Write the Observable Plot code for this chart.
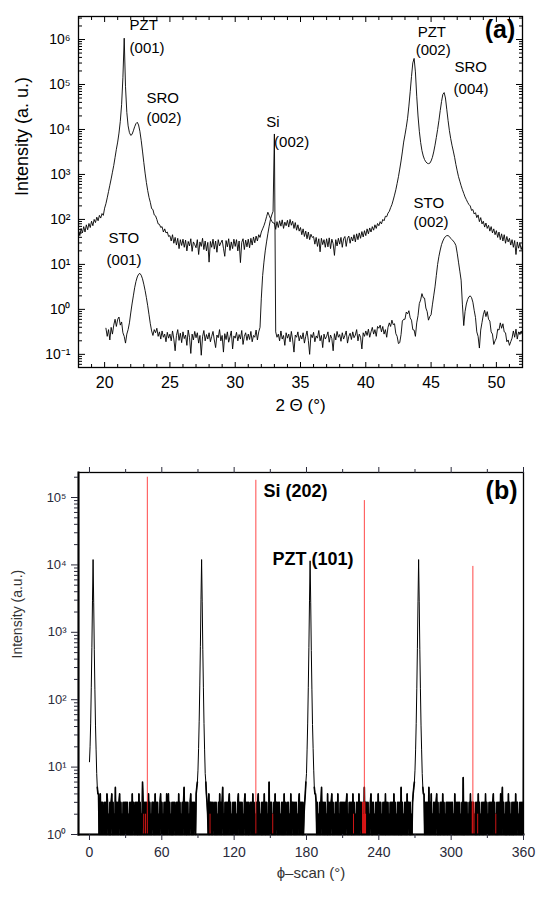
<!DOCTYPE html>
<html><head><meta charset="utf-8">
<script src="https://cdn.jsdelivr.net/npm/d3@7"></script>
<script src="https://cdn.jsdelivr.net/npm/@observablehq/plot@0.6"></script>
<style>
body{margin:0;background:#fff;font-family:"Liberation Sans",Arial,sans-serif;}
#chart svg{display:block}
</style></head><body><div id="chart"></div>
<script>
// ---------- Panel (a): 2-theta scans, log10 intensity, 0.1° steps ----------
const filmStart = 18.0;           // upper curve (film), 18.0 .. 52.0
const filmLog = [
1.76,1.64,1.80,1.70,1.84,1.72,1.88,1.77,1.91,1.82,
1.96,1.86,2.00,1.93,2.05,1.97,2.09,2.03,2.13,2.09,
2.25,2.35,2.48,2.62,2.76,2.90,3.05,3.20,3.38,3.56,
3.72,3.92,4.18,4.55,5.15,6.03,4.95,4.38,4.08,3.93,
3.87,3.89,3.97,4.06,4.13,4.16,4.10,3.96,3.76,3.52,
3.27,3.03,2.82,2.64,2.49,2.38,2.24,2.22,2.10,2.08,
2.00,1.90,1.89,1.82,1.84,1.72,1.79,1.70,1.72,1.62,
1.64,1.52,1.66,1.47,1.60,1.43,1.58,1.35,1.55,1.42,
1.56,1.38,1.54,1.30,1.51,1.41,1.57,1.29,1.50,1.44,
1.37,1.55,1.22,1.50,1.40,1.58,1.33,1.52,1.30,1.49,
1.05,1.51,1.38,1.56,1.34,1.52,1.27,1.55,1.41,1.48,
1.54,1.36,1.18,1.53,1.39,1.57,1.31,1.50,1.35,1.56,
1.40,1.55,1.30,1.52,1.04,1.49,1.57,1.33,1.54,1.39,
1.56,1.37,1.58,1.43,1.61,1.48,1.63,1.52,1.66,1.60,
1.72,1.79,1.86,1.95,2.06,2.16,2.09,2.02,1.96,1.92,
1.92,1.78,1.95,1.82,1.97,1.85,1.99,1.80,1.94,1.86,
1.98,1.83,2.00,1.87,1.96,1.80,1.93,1.76,1.88,1.74,
1.82,1.66,1.79,1.62,1.74,1.57,1.72,1.55,1.67,1.60,
1.62,1.45,1.60,1.40,1.57,1.28,1.58,1.44,1.55,1.38,
1.57,1.39,1.59,1.35,1.56,1.46,1.20,1.55,1.41,1.58,
1.45,1.60,1.38,1.57,1.62,1.40,1.58,1.63,1.47,1.61,
1.52,1.66,1.50,1.68,1.55,1.70,1.58,1.73,1.61,1.75,
1.64,1.79,1.68,1.81,1.72,1.84,1.76,1.88,1.80,1.91,
1.86,1.95,1.90,2.00,1.97,2.07,2.06,2.14,2.18,2.26,
2.33,2.43,2.54,2.66,2.80,2.95,3.12,3.30,3.50,3.72,
3.88,4.05,4.25,4.52,4.84,5.18,5.48,5.58,5.28,4.74,
4.30,3.96,3.71,3.53,3.41,3.33,3.28,3.25,3.24,3.25,
3.30,3.38,3.50,3.65,3.82,4.00,4.20,4.42,4.62,4.78,
4.82,4.70,4.45,4.20,3.98,3.80,3.65,3.52,3.38,3.22,
3.08,2.95,2.85,2.75,2.66,2.58,2.50,2.44,2.38,2.33,
2.30,2.20,2.22,2.12,2.15,2.04,2.10,1.95,2.04,1.90,
1.96,1.83,1.92,1.80,1.87,1.74,1.84,1.70,1.79,1.66,
1.75,1.60,1.72,1.55,1.68,1.52,1.66,1.47,1.62,1.50,
1.58,1.43,1.55,1.38,1.53,1.22,1.50,1.36,1.47,1.33,
1.42];
const stoStart = 20.1;            // lower curve (STO), 20.1 .. 52.0
const stoLog = [
-0.42,-0.60,-0.45,-0.68,-0.40,-0.55,-0.35,-0.22,-0.38,
-0.22,-0.17,-0.35,-0.28,-0.52,-0.60,-0.75,-0.55,-0.45,-0.30,
-0.08,0.12,0.30,0.48,0.62,0.72,0.78,0.80,0.76,0.68,
0.56,0.42,0.26,0.08,-0.12,-0.32,-0.48,-0.58,-0.45,-0.52,
-0.42,-0.60,-0.50,-0.66,-0.48,-0.62,-0.55,-0.72,-0.51,-0.64,
-0.55,-0.70,-0.48,-0.66,-0.92,-0.58,-0.45,-0.69,-0.53,-0.74,
-0.50,-0.65,-0.57,-0.80,-0.46,-0.62,-0.98,-0.55,-0.68,-0.49,
-0.63,-0.52,-0.75,-0.58,-1.02,-0.61,-0.47,-0.70,-0.56,-0.66,
-0.52,-0.72,-0.60,-0.49,-0.68,-0.85,-0.57,-0.63,-0.45,-0.70,
-0.58,-0.95,-0.54,-0.67,-0.50,-0.73,-0.61,-0.48,-0.88,-0.59,
-0.64,-0.51,-0.70,-0.56,-0.66,-0.47,-0.78,-0.60,-0.52,-0.69,
-0.55,-0.67,-0.49,-0.72,-0.58,-0.62,-0.46,-0.68,-0.50,-0.40,
0.25,0.75,1.05,1.30,1.50,1.68,1.85,2.00,2.10,2.18,
3.90,-0.50,-0.62,-0.55,-0.70,-0.48,-0.66,-0.58,-0.80,-0.52,
-0.64,-0.55,-0.72,-0.49,-0.68,-0.95,-0.57,-0.62,-0.50,-0.70,
-0.58,-0.66,-0.52,-0.75,-0.60,-0.48,-0.69,-1.00,-0.56,-0.63,
-0.51,-0.72,-0.59,-0.64,-0.47,-0.70,-0.58,-0.85,-0.55,-0.66,
-0.60,-0.50,-0.73,-0.57,-0.65,-0.92,-0.54,-0.68,-0.49,-0.62,
-0.56,-0.71,-0.52,-0.66,-0.58,-0.48,-0.75,-0.60,-0.53,-0.67,
-0.50,-0.63,-0.57,-0.45,-0.70,-0.55,-0.62,-0.88,-0.52,-0.60,
-0.48,-0.58,-0.44,-0.62,-0.50,-0.40,-0.55,-0.45,-0.60,-0.38,
-0.42,-0.35,-0.50,-0.38,-0.55,-0.45,-0.62,-0.40,-0.30,-0.38,
-0.24,-0.34,-0.32,-0.54,-0.60,-0.76,-0.74,-0.56,-0.26,-0.22,
-0.22,-0.06,-0.10,-0.03,-0.19,-0.24,-0.45,-0.46,-0.60,-0.30,
-0.14,0.13,0.21,0.35,0.26,0.25,0.03,-0.05,-0.24,-0.16,
-0.12,0.10,0.30,0.50,0.75,1.00,1.18,1.32,1.44,1.52,
1.58,1.62,1.64,1.64,1.62,1.58,1.55,1.52,1.48,1.42,
1.25,1.05,0.85,0.65,0.10,-0.36,-0.05,0.12,0.22,0.28,
0.30,0.26,0.16,-0.02,-0.18,-0.50,-0.60,-0.86,-0.46,-0.29,
-0.12,-0.02,-0.16,-0.05,-0.22,-0.26,-0.50,-0.55,-0.78,-0.70,
-0.64,-0.44,-0.46,-0.30,-0.42,-0.32,-0.50,-0.52,-0.72,-0.68,
-0.80,-0.72,-0.64,-0.48,-0.62,-0.44,-0.66,-0.50,-0.56,-0.48,
-0.56];
const xMajorA = [20,25,30,35,40,45,50];
const xMinorA = [18,19,21,22,23,24,26,27,28,29,31,32,33,34,36,37,38,39,41,42,43,44,46,47,48,49,51,52];
const yMajorA = [1e-1,1e0,1e1,1e2,1e3,1e4,1e5,1e6];
const annotTextA = ["PZT","(001)","SRO","(002)","Si","(002)","PZT","(002)","SRO","(004)","STO","(001)","STO","(002)"];
const annotXA    = [21.91,21.91,23.2,23.2,32.37,32.98,43.97,43.82,46.79,46.72,20.3,20.15,43.66,43.66];
const annotYA    = [2.05e6,6.3e5,4.9e4,1.74e4,1.44e4,5.1e3,1.43e6,5.7e5,2.4e5,7.7e4,38,12.3,229,85];

// ---------- Panel (b): phi scan, counts, 0.5° steps ----------
const phiNoise = `
313121341313131312413132131314312131341312151313134131213131
331312131314132131313141312163131313214131213313141313121341
312131314134131213131321313141312131351313131213413131321314
131312413131313121413313132131312131413135121313131341312131
313121341313131213413131312313141312131341312131314131312161
313121314133131312131314131231312141331313131213413131312131
313131312131413131312131351313131214131313413121313141213131
313131341213131314131213131413313121513131312134131312131314
131312131314131312131313141312131313151312131314133131213131
313131214133131213131315131412131313413121313141312131313131
313121413131313121317131313121314133131213131413121313131413
121313131341312131313141351312131314131213131314133121313131
3`;
const peakCentersB = [3, 93, 183, 273];
const peakOffsetsB = [-4.5,-4,-3.5,-3,-2.5,-2,-1.5,-1,-0.5,0,0.5,1,1.5,2,2.5,3,3.5,4,4.5];
const peak1B = [4,4,5,12,20,45,150,600,3000,12000,2800,550,140,42,18,8,5,4,4];
const peak2B = [4,5,6,9,19,48,160,620,3100,12000,2900,560,150,44,18,8,6,4,3];
const peak3B = [3,4,6,8,18,45,150,600,3000,11500,2800,540,140,43,19,9,5,4,4];
const peak4B = [4,5,6,9,18,44,145,580,2900,12000,2900,560,145,42,18,8,5,4,4];
const endPhiB = 360, endValueB = 1500;
const redX = [45, 46.5, 48, 100, 138, 152, 219, 226.5, 227, 227.5, 228, 228.5, 229, 317.5, 318, 319, 322, 337];
const redY = [2, 2, 2.0e5, 2, 1.8e5, 2, 2, 3, 3, 2, 9e4, 3, 2, 3, 9.5e3, 3, 2, 2];
const xMajorB = [0,60,120,180,240,300,360];
const xMinorB = [30,90,150,210,270,330];
const yMajorB = [1e0,1e1,1e2,1e3,1e4,1e5];
const annotTextB = ["Si (202)", "PZT (101)"];
const annotXB = [144.3, 151.8];
const annotYB = [1.23e5, 1.2e4];

// ---------- helpers ----------
const sup = {"-":"⁻","0":"⁰","1":"¹","2":"²","3":"³","4":"⁴","5":"⁵","6":"⁶","7":"⁷","8":"⁸","9":"⁹"};
const pow10 = d => "10" + String(Math.round(Math.log10(d))).split("").map(c => sup[c]).join("");
const minorLog = (lo, hi, dmin, dmax) => { const t = []; for (let e = lo; e <= hi; e++) for (let m = 2; m <= 9; m++) { const v = m * 10 ** e; if (v >= dmin && v <= dmax) t.push(v); } return t; };
const FONT = "Liberation Sans, Arial, sans-serif";

const filmData = filmLog.map((v, i) => ({x: filmStart + i / 10, y: 10 ** v}));
const stoData = stoLog.map((v, i) => ({x: stoStart + i / 10, y: 10 ** v}));
const annotA = annotTextA.map((t, i) => ({t, x: annotXA[i], y: annotYA[i]}));

const profiles = [peak1B, peak2B, peak3B, peak4B];
const digits = phiNoise.replace(/\s/g, "");
const blackData = [];
for (let i = 0; i < digits.length; i++) {
  const phi = i / 2;
  let v = +digits[i];
  peakCentersB.forEach((c, k) => {
    const j = peakOffsetsB.indexOf(phi - c);
    if (j >= 0) v = profiles[k][j];
  });
  if (phi === endPhiB) v = endValueB;
  blackData.push({phi, v});
}
const redData = redX.map((x, i) => ({x, y: redY[i]}));
const annotB = annotTextB.map((t, i) => ({t, x: annotXB[i], y: annotYB[i]}));

const yDomA = [0.051, 3.25e6];
const yDomB = [1, 2.35e5];

const pa = Plot.plot({
  width: 537, height: 430,
  marginTop: 16, marginBottom: 63, marginLeft: 78, marginRight: 15,
  x: {domain: [18, 52]},
  y: {type: "log", domain: yDomA},
  style: {fontFamily: FONT, fontSize: "14px", color: "#000", background: "#fff", overflow: "visible"},
  marks: [
    Plot.line(stoData, {x: "x", y: "y", stroke: "#000", strokeWidth: 0.9}),
    Plot.line(filmData, {x: "x", y: "y", stroke: "#000", strokeWidth: 0.9}),
    Plot.frame({stroke: "#000", strokeWidth: 1.3}),
    Plot.axisX(xMinorA, {anchor: "bottom", tickSize: -3, tickFormat: () => "", label: null}),
    Plot.axisX(xMajorA, {anchor: "bottom", tickSize: -5, tickFormat: () => "", label: null}),
    Plot.axisX(xMinorA, {anchor: "top", tickSize: -3, tickFormat: () => "", label: null}),
    Plot.axisX(xMajorA, {anchor: "top", tickSize: -5, tickFormat: () => "", label: null}),
    Plot.axisX(xMajorA, {anchor: "bottom", tickSize: 0, tickPadding: 9, fontSize: 16, label: null}),
    Plot.axisY(minorLog(-2, 6, ...yDomA), {anchor: "left", tickSize: -4, tickFormat: () => "", label: null}),
    Plot.axisY(yMajorA, {anchor: "left", tickSize: -7, tickFormat: () => "", label: null}),
    Plot.axisY(minorLog(-2, 6, ...yDomA), {anchor: "right", tickSize: -4, tickFormat: () => "", label: null}),
    Plot.axisY(yMajorA, {anchor: "right", tickSize: -7, tickFormat: () => "", label: null}),
    Plot.axisY(yMajorA, {anchor: "left", tickSize: 0, tickPadding: 8, fontSize: 14, tickFormat: pow10, label: null}),
    Plot.text(annotA, {x: "x", y: "y", text: "t", textAnchor: "start", fontSize: 15, fill: "#000"}),
    Plot.text(["(a)"], {x: [51.45], y: [1.6e6], textAnchor: "end", fontSize: 25, fontWeight: "bold", fill: "#000"}),
    Plot.text(["Intensity (a. u.)"], {frameAnchor: "left", dx: -56, dy: 4, rotate: -90, fontSize: 18, fill: "#000"}),
    Plot.text(["2 Θ (°)"], {frameAnchor: "bottom", dy: 43, fontSize: 17, fill: "#000"})
  ]
});

const pb = Plot.plot({
  width: 537, height: 468,
  marginTop: 42, marginBottom: 64, marginLeft: 78, marginRight: 14,
  x: {domain: [-9.1, 360]},
  y: {type: "log", domain: yDomB},
  style: {fontFamily: FONT, fontSize: "14px", color: "#2a2a3a", background: "#fff", overflow: "visible"},
  marks: [
    Plot.line(blackData, {x: "phi", y: "v", stroke: "#000", strokeWidth: 1}),
    Plot.line(blackData, {x: "phi", y: d => (d.v <= 7 ? d.v : NaN), stroke: "#000", strokeWidth: 1.6}),
    Plot.ruleX(redData, {x: "x", y1: 1, y2: "y", stroke: "#ff1a1a", strokeOpacity: 0.8, strokeWidth: 1}),
    Plot.frame({stroke: "#000", strokeWidth: 1.3}),
    Plot.frame({anchor: "left", stroke: "#000", strokeWidth: 2}),
    Plot.frame({anchor: "bottom", stroke: "#000", strokeWidth: 2}),
    Plot.axisX(xMajorB, {anchor: "bottom", tickSize: 6, tickFormat: () => "", label: null}),
    Plot.axisX(xMinorB, {anchor: "bottom", tickSize: 4, tickFormat: () => "", label: null}),
    Plot.axisX(xMajorB, {anchor: "top", tickSize: 6, tickFormat: () => "", label: null}),
    Plot.axisX(xMinorB, {anchor: "top", tickSize: 4, tickFormat: () => "", label: null}),
    Plot.axisX(xMajorB, {anchor: "bottom", tickSize: 0, tickPadding: 13, fontSize: 14, label: null}),
    Plot.axisY(minorLog(0, 5, ...yDomB), {anchor: "left", tickSize: 4, tickFormat: () => "", label: null}),
    Plot.axisY(yMajorB, {anchor: "left", tickSize: 7, tickFormat: () => "", label: null}),
    Plot.axisY(yMajorB, {anchor: "left", tickSize: 0, tickPadding: 12, fontSize: 13, tickFormat: pow10, label: null}),
    Plot.text(annotB, {x: "x", y: "y", text: "t", textAnchor: "start", fontSize: 18, fontWeight: "bold", fill: "#000"}),
    Plot.text(["(b)"], {x: [355], y: [1.27e5], textAnchor: "end", fontSize: 25, fontWeight: "bold", fill: "#000"}),
    Plot.text(["Intensity (a.u.)"], {frameAnchor: "left", dx: -61, dy: 5, rotate: -90, fontSize: 14, fill: "#333"}),
    Plot.text(["ϕ–scan (°)"], {frameAnchor: "bottom", dx: 10, dy: 43, fontSize: 15, fill: "#333"})
  ]
});

document.getElementById("chart").append(pa, pb);
</script></body></html>
